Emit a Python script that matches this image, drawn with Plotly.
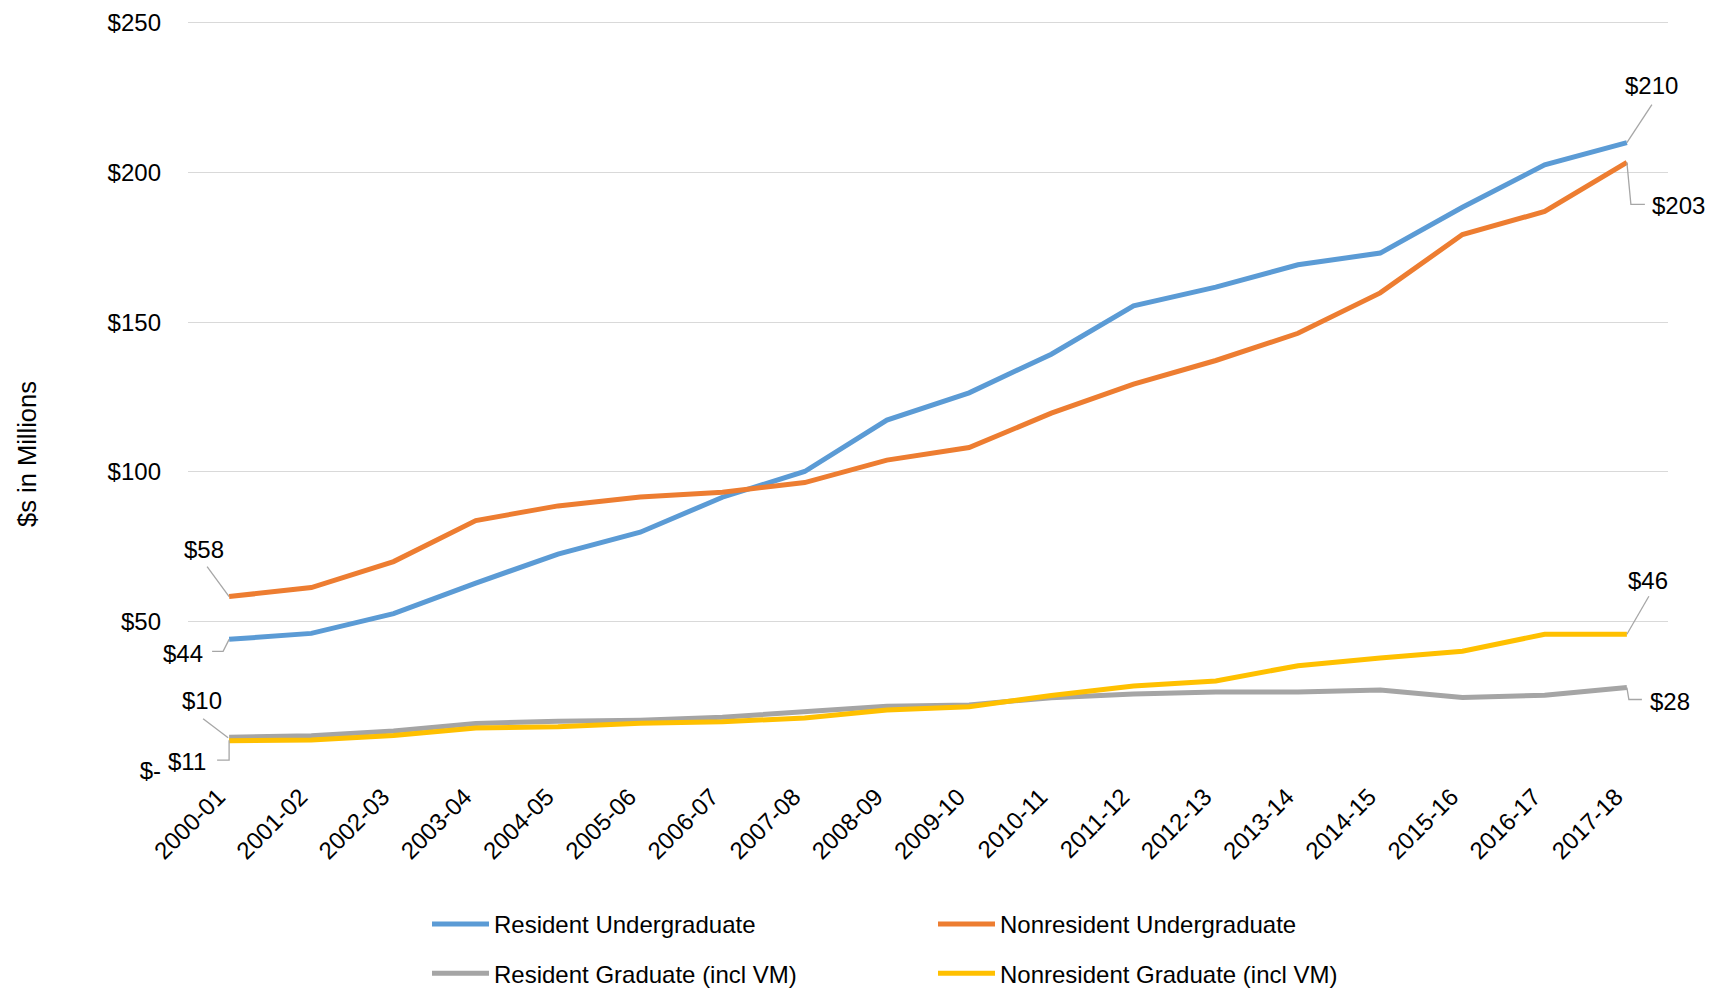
import plotly.graph_objects as go

years = ["2000-01", "2001-02", "2002-03", "2003-04", "2004-05", "2005-06",
         "2006-07", "2007-08", "2008-09", "2009-10", "2010-11", "2011-12",
         "2012-13", "2013-14", "2014-15", "2015-16", "2016-17", "2017-18"]

res_ug = [44.0, 46.0, 52.6, 62.8, 72.5, 79.8, 91.5, 100.1, 117.3, 126.4,
          139.3, 155.5, 161.7, 169.2, 173.1, 188.4, 202.6, 210.0]
nonres_ug = [58.3, 61.3, 70.0, 83.7, 88.6, 91.6, 93.2, 96.4, 103.9, 108.1,
             119.6, 129.3, 137.2, 146.3, 159.8, 179.3, 187.0, 203.4]
res_grad = [11.3, 11.8, 13.4, 15.9, 16.6, 17.0, 18.0, 19.7, 21.6, 22.1,
            24.5, 25.7, 26.4, 26.4, 27.1, 24.6, 25.3, 27.9]
nonres_grad = [10.1, 10.4, 11.9, 14.4, 14.8, 16.0, 16.5, 17.7, 20.4, 21.5,
               25.2, 28.4, 30.1, 35.2, 37.8, 40.0, 45.7, 45.7]

series_names = ["Resident Undergraduate", "Nonresident Undergraduate",
                "Resident Graduate (incl VM)", "Nonresident Graduate (incl VM)"]
colors = ["#5B9BD5", "#ED7D31", "#A5A5A5", "#FFC000"]

y_tickvals = [0, 50, 100, 150, 200, 250]
y_ticktext = ["$-", "$50", "$100", "$150", "$200", "$250"]

FONT = "Liberation Sans, Arial, sans-serif"
W, H = 1710, 994
ML, MR, MT, MB = 188, 42, 20, 223
PW = W - ML - MR
PH = H - MT - MB

def px_x(px):
    return (px - ML) / PW

def px_y(py):
    return (H - MB - py) / PH

fig = go.Figure()
all_series = [res_ug, nonres_ug, res_grad, nonres_grad]
legend_ids = ["legend", "legend2", "legend", "legend2"]
for i, (name, vals, col) in enumerate(zip(series_names, all_series, colors)):
    fig.add_trace(go.Scatter(
        x=years, y=vals, name=name, mode="lines",
        line=dict(color=col, width=5),
        legend=legend_ids[i], legendgroup="g%d" % i,
        hoverinfo="skip",
    ))

# data labels: (series values, index, text, xshift, yshift, leader path in px)
labels = [
    (res_ug, -1, "$210", 25, 57, "M0,0 L25,38"),
    (nonres_ug, -1, "$203", 52, -43, "M0,0 L4,-42 L18,-42"),
    (nonres_ug, 0, "$58", -25, 47, "M0,0 L-22,30"),
    (res_ug, 0, "$44", -46, -14, "M0,0 L-6,-12 L-17,-12"),
    (nonres_grad, 0, "$10", -27, 40, "M-1,3 L-26,22"),
    (res_grad, 0, "$11", -42, -24, "M0,-3 L0,-23 L-12,-23"),
    (nonres_grad, -1, "$46", 21, 54, "M0,0 L22,38"),
    (res_grad, -1, "$28", 43, -14, "M0,0 L2,-12 L15,-12"),
]

annotations = []
shapes = []
for vals, idx, txt, xs, ys, path in labels:
    xcat = years[idx]
    yv = vals[idx]
    annotations.append(dict(
        x=xcat, y=yv, xref="x", yref="y", text=txt, showarrow=False,
        xshift=xs, yshift=ys, font=dict(family=FONT, size=24, color="#000000"),
    ))
    shapes.append(dict(
        type="path", xref="x", yref="y", xsizemode="pixel", ysizemode="pixel",
        xanchor=xcat, yanchor=yv, path=path,
        line=dict(color="#A6A6A6", width=1.3),
    ))

annotations.append(dict(
    x=px_x(27), y=px_y(454), xref="paper", yref="paper",
    xanchor="center", yanchor="middle",
    text="$s in Millions", textangle=-90, showarrow=False,
    font=dict(family=FONT, size=25.5, color="#000000"),
))

fig.update_layout(
    width=W, height=H,
    margin=dict(l=ML, r=MR, t=MT, b=MB, pad=0, autoexpand=False),
    paper_bgcolor="white", plot_bgcolor="white",
    font=dict(family=FONT, size=24, color="#000000"),
    xaxis=dict(
        type="category", categoryorder="array", categoryarray=years,
        range=[-0.5, len(years) - 0.5], automargin=False,
        showgrid=False, zeroline=False, showline=False, ticks="",
        tickangle=-45, tickfont=dict(family=FONT, size=24, color="#000000"),
        ticklabelshift=-11, ticklabelstandoff=6,
    ),
    yaxis=dict(
        range=[0, 251], tickvals=y_tickvals, ticktext=y_ticktext,
        automargin=False,
        showgrid=True, gridcolor="#D9D9D9", gridwidth=1.3,
        zeroline=False, showline=False, ticks="",
        ticklabelstandoff=26,
        tickfont=dict(family=FONT, size=24, color="#000000"),
    ),
    legend=dict(
        x=px_x(427), y=px_y(902), xanchor="left", yanchor="top",
        orientation="v", traceorder="grouped", tracegroupgap=15,
        font=dict(family=FONT, size=24, color="#000000"),
        bgcolor="rgba(0,0,0,0)", itemwidth=57,
    ),
    legend2=dict(
        x=px_x(933), y=px_y(902), xanchor="left", yanchor="top",
        orientation="v", traceorder="grouped", tracegroupgap=15,
        font=dict(family=FONT, size=24, color="#000000"),
        bgcolor="rgba(0,0,0,0)", itemwidth=57,
    ),
    annotations=annotations,
    shapes=shapes,
)

fig.write_html("out.html")
